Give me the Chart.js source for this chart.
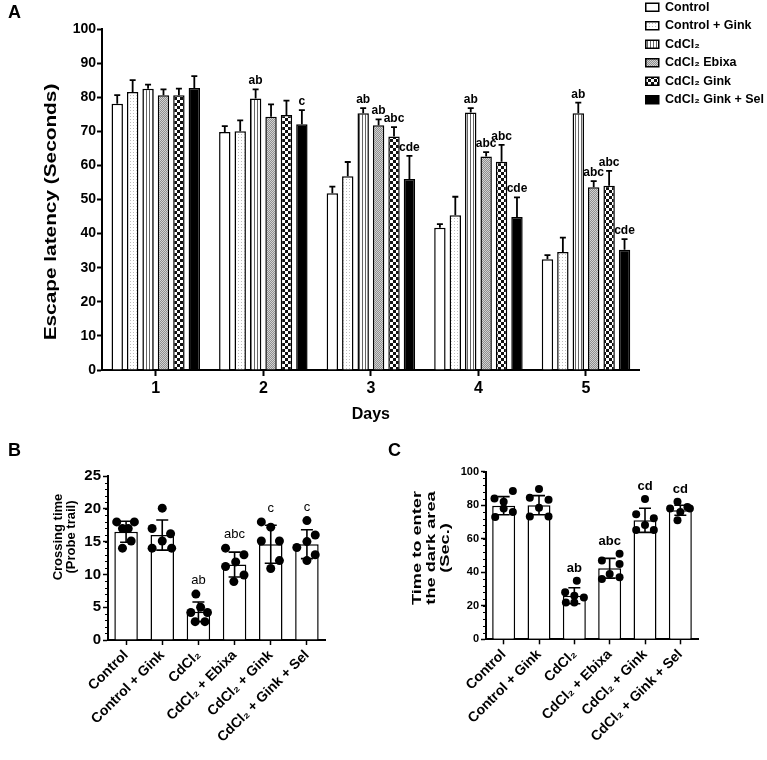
<!DOCTYPE html>
<html lang="en">
<head>
<meta charset="UTF-8">
<title>Escape latency, crossing time and step-through latency</title>
<script src="https://cdn.jsdelivr.net/npm/chart.js"></script>
<style>
    body {
        margin: 0;
        background: #ffffff;
        width: 767px;
        height: 760px;
        position: relative;
        overflow: hidden;
    }
    canvas { position: absolute; }
    #chartA { left: 0; top: -5px; }
    #chartB { left: 0; top: 440px; }
    #chartC { left: 380px; top: 440px; }
</style>
</head>
<body>
<canvas id="chartA" width="767" height="435"></canvas>
<canvas id="chartB" width="380" height="320"></canvas>
<canvas id="chartC" width="387" height="320"></canvas>
<script>
// ---------- panel A: escape latency (mean + SEM), days 1-5 ----------
const days = ['1', '2', '3', '4', '5'];
const groupsA = ['Control', 'Control + Gink', 'CdCl₂', 'CdCl₂ Ebixa', 'CdCl₂ Gink', 'CdCl₂ Gink + Sel'];

const latControl     = [78.1, 69.8, 51.8, 41.7, 32.5];
const latControlGink = [81.5, 70.0, 56.8, 45.4, 34.6];
const latCd          = [82.5, 79.6, 75.3, 75.5, 75.3];
const latCdEbixa     = [80.6, 74.3, 71.8, 62.6, 53.6];
const latCdGink      = [80.6, 74.8, 68.5, 61.1, 54.0];
const latCdGinkSel   = [82.7, 72.1, 56.0, 44.9, 35.3];

const semControl     = [2.5, 1.7, 2.0, 1.1, 1.2];
const semControlGink = [3.5, 3.2, 4.2, 5.4, 4.2];
const semCd          = [1.2, 2.7, 1.5, 1.3, 3.1];
const semCdEbixa     = [1.7, 3.6, 1.7, 1.3, 1.8];
const semCdGink      = [1.9, 4.2, 2.7, 4.9, 4.4];
const semCdGinkSel   = [3.5, 4.1, 6.8, 5.7, 3.1];

const letControl     = ['', '', '', '', ''];
const letControlGink = ['', '', '', '', ''];
const letCd          = ['', 'ab', 'ab', 'ab', 'ab'];
const letCdEbixa     = ['', '', 'ab', 'abc', 'abc'];
const letCdGink      = ['', '', 'abc', 'abc', 'abc'];
const letCdGinkSel   = ['', 'c', 'cde', 'cde', 'cde'];

// ---------- panels B and C: per-animal values (mean +/- SD) ----------
const groupsBC = ['Control', 'Control + Gink', 'CdCl₂', 'CdCl₂ + Ebixa', 'CdCl₂ + Gink', 'CdCl₂ + Gink + Sel'];

const crossMean = [16.5, 16.0, 4.3, 11.5, 14.6, 14.6];
const crossSD   = [1.6, 2.3, 1.5, 1.9, 2.9, 2.2];
const crossPts  = [
    [18, 18, 17, 17, 15.1, 14],
    [20.1, 17, 16.2, 15.1, 14, 14],
    [7, 5, 4.2, 4.2, 2.8, 2.8],
    [14, 13, 11.9, 11.2, 9.9, 8.9],
    [18, 17.2, 15.1, 15.1, 12.1, 10.9],
    [18.2, 16, 15, 14.1, 13, 12.1]
];
const crossJitter = [
    [-0.26, 0.23, 0.06, -0.1, 0.14, -0.1],
    [0, -0.28, 0.23, 0, -0.28, 0.26],
    [-0.07, 0.06, -0.21, 0.25, -0.09, 0.18],
    [-0.25, 0.26, 0.03, -0.25, 0.26, -0.02],
    [-0.26, 0, -0.26, 0.24, 0.24, 0],
    [0, 0.23, 0, -0.28, 0.23, 0]
];
const crossLetters = ['', '', 'ab', 'abc', 'c', 'c'];

const darkMean = [79.7, 80.0, 26.0, 42.4, 71.0, 77.0];
const darkSD   = [5.4, 5.7, 4.8, 5.9, 7.2, 3.0];
const darkPts  = [
    [84, 82, 88.5, 78, 73, 76],
    [89.7, 84.5, 83.3, 78.5, 73.2, 73.2],
    [35, 28, 26, 25, 22, 22],
    [51, 47, 45, 39, 36, 37],
    [83.7, 74.6, 72.2, 68.2, 65.2, 65.2],
    [82, 79, 78, 78, 76, 71]
];
const darkJitter = [
    [-0.26, 0, 0.26, 0, -0.24, 0.26],
    [0, -0.26, 0.27, 0, -0.26, 0.27],
    [0.07, -0.26, 0, 0.27, -0.24, 0],
    [0.28, -0.22, 0.28, 0, -0.22, 0.28],
    [0, -0.25, 0.25, 0, -0.25, 0.25],
    [-0.08, 0.2, -0.29, 0.27, 0, -0.08]
];
const darkLetters = ['', '', 'ab', 'abc', 'cd', 'cd'];

Chart.defaults.font.family = '"Liberation Sans", Arial, sans-serif';
Chart.defaults.color = '#000';
Chart.defaults.animation = false;

// bar fill patterns
function pattern(w, h, draw) {
    const c = document.createElement('canvas');
    c.width = w;
    c.height = h;
    const g = c.getContext('2d');
    draw(g);
    return g.createPattern(c, 'repeat');
}
const dotFill = pattern(3, 3, g => {
    g.fillStyle = '#ffffff'; g.fillRect(0, 0, 3, 3);
    g.fillStyle = '#bdbdbd'; g.fillRect(1, 1, 1, 1);
});
const stripeFill = pattern(3, 1, g => {
    g.fillStyle = '#ffffff'; g.fillRect(0, 0, 3, 1);
    g.fillStyle = '#666666'; g.fillRect(2, 0, 1, 1);
});
const stippleFill = pattern(2, 2, g => {
    g.fillStyle = '#d2d2d2'; g.fillRect(0, 0, 2, 2);
    g.fillStyle = '#8e8e8e'; g.fillRect(0, 0, 1, 1); g.fillRect(1, 1, 1, 1);
});
const checkFill = pattern(6, 6, g => {
    g.fillStyle = '#ffffff'; g.fillRect(0, 0, 6, 6);
    g.fillStyle = '#111111'; g.fillRect(0, 0, 3, 3); g.fillRect(3, 3, 3, 3);
});

// error bars, significance letters, minor ticks and stretched y titles
const extras = {
    id: 'extras',
    afterDatasetsDraw(chart) {
        const ctx = chart.ctx;
        const y = chart.scales.y;
        chart.data.datasets.forEach((ds, di) => {
            if (!ds.errors) return;
            const meta = chart.getDatasetMeta(di);
            ctx.save();
            ctx.strokeStyle = '#000';
            ctx.lineWidth = ds.errWidth;
            meta.data.forEach((bar, i) => {
                const x = bar.x;
                const half = ds.capWidth / 2;
                const top = y.getPixelForValue(ds.data[i] + ds.errors[i]);
                const bottom = y.getPixelForValue(ds.errorBoth ? ds.data[i] - ds.errors[i] : ds.data[i]);
                ctx.beginPath();
                ctx.moveTo(x, bottom);
                ctx.lineTo(x, top);
                ctx.moveTo(x - half, top);
                ctx.lineTo(x + half, top);
                if (ds.errorBoth) {
                    ctx.moveTo(x - half, bottom);
                    ctx.lineTo(x + half, bottom);
                }
                ctx.stroke();
                if (ds.letters[i]) {
                    ctx.fillStyle = '#000';
                    ctx.font = ds.letterFont;
                    ctx.textAlign = 'center';
                    ctx.textBaseline = 'alphabetic';
                    ctx.fillText(ds.letters[i], x, y.getPixelForValue(ds.letterAt[i]) - ds.letterGap);
                }
            });
            ctx.restore();
        });
    },
    afterDraw(chart, args, opts) {
        const ctx = chart.ctx;
        const y = chart.scales.y;
        const area = chart.chartArea;
        ctx.save();
        if (opts.minorStep) {
            ctx.strokeStyle = '#000';
            ctx.lineWidth = 1;
            ctx.beginPath();
            for (let v = y.min; v <= y.max + 1e-9; v += opts.minorStep) {
                const py = Math.round(y.getPixelForValue(v)) + 0.5;
                ctx.moveTo(area.left - opts.minorLength, py);
                ctx.lineTo(area.left, py);
            }
            ctx.stroke();
        }
        if (opts.yTitle) {
            const t = opts.yTitle;
            ctx.fillStyle = '#000';
            ctx.font = t.font;
            ctx.textAlign = 'center';
            ctx.textBaseline = 'middle';
            ctx.translate(t.x, t.y);
            ctx.rotate(-Math.PI / 2);
            ctx.scale(t.stretch, 1);
            t.lines.forEach((line, k) => {
                ctx.fillText(line, 0, (k - (t.lines.length - 1) / 2) * t.lineHeight);
            });
        }
        ctx.restore();
    }
};

// ---------- chart A ----------
const latency = [latControl, latControlGink, latCd, latCdEbixa, latCdGink, latCdGinkSel];
const semA = [semControl, semControlGink, semCd, semCdEbixa, semCdGink, semCdGinkSel];
const lettersA = [letControl, letControlGink, letCd, letCdEbixa, letCdGink, letCdGinkSel];
const fillsA = ['#ffffff', dotFill, stripeFill, stippleFill, checkFill, '#000000'];

new Chart(document.getElementById('chartA'), {
    type: 'bar',
    data: {
        labels: days,
        datasets: groupsA.map((name, k) => ({
            label: name,
            data: latency[k],
            backgroundColor: fillsA[k],
            borderColor: '#000',
            borderWidth: 1.5,
            categoryPercentage: 0.86,
            barPercentage: 0.74,
            errors: semA[k],
            errorBoth: false,
            errWidth: 1.8,
            capWidth: 6,
            letters: lettersA[k],
            letterAt: latency[k].map((v, i) => v + semA[k][i]),
            letterGap: 5,
            letterFont: 'bold 12px "Liberation Sans", Arial, sans-serif'
        }))
    },
    options: {
        responsive: false,
        layout: { padding: { left: 8, right: -7, top: 0, bottom: 0 } },
        scales: {
            x: {
                grid: { display: true, drawOnChartArea: false, offset: false, tickLength: 6, tickWidth: 2, tickColor: '#000' },
                border: { color: '#000', width: 2 },
                ticks: { font: { size: 16, weight: 'bold' }, padding: 3 },
                title: { display: true, text: 'Days', font: { size: 16, weight: 'bold' }, padding: { top: 0, bottom: 6 } },
                afterFit(s) { s.height = 60; }
            },
            y: {
                min: 0,
                max: 100,
                ticks: { stepSize: 10, font: { size: 14, weight: 'bold' }, padding: 1 },
                grid: { display: true, drawOnChartArea: false, tickLength: 5, tickWidth: 2, tickColor: '#000' },
                border: { color: '#000', width: 2 },
                afterFit(s) { s.width = 94; }
            }
        },
        plugins: {
            title: {
                display: true,
                text: 'A',
                align: 'start',
                font: { size: 18, weight: 'bold' },
                padding: { top: 7, bottom: 5.4 }
            },
            legend: {
                position: 'right',
                align: 'start',
                labels: { boxWidth: 13, boxHeight: 8, padding: 6, font: { size: 12.5, weight: 'bold' } }
            },
            tooltip: { enabled: false },
            extras: {
                yTitle: {
                    lines: ['Escape latency (Seconds)'],
                    x: 52, y: 217, stretch: 1.3, lineHeight: 16,
                    font: 'bold 16px "Liberation Sans", Arial, sans-serif'
                }
            }
        }
    },
    plugins: [extras]
});

// ---------- charts B and C ----------
function dotPanel(id, panelLetter, means, sds, pts, jitter, letters, cfg) {
    const points = [];
    pts.forEach((vals, i) => vals.forEach((v, j) => points.push({ x: i + jitter[i][j], y: v })));
    new Chart(document.getElementById(id), {
        type: 'bar',
        data: {
            labels: groupsBC,
            datasets: [
                {
                    type: 'bar',
                    data: means,
                    order: 2,
                    grouped: false,
                    backgroundColor: '#ffffff',
                    borderColor: '#000',
                    borderWidth: 1.5,
                    categoryPercentage: 0.65,
                    barPercentage: 1,
                    errors: sds,
                    errorBoth: true,
                    errWidth: 1.6,
                    capWidth: cfg.cap,
                    letters: letters,
                    letterAt: pts.map(v => Math.max(...v)),
                    letterGap: cfg.letterGap,
                    letterFont: cfg.letterFont
                },
                {
                    type: 'scatter',
                    data: points,
                    order: 1,
                    xAxisID: 'x2',
                    pointRadius: cfg.dot,
                    backgroundColor: '#000',
                    borderWidth: 0
                }
            ]
        },
        options: {
            responsive: false,
            layout: { padding: { left: 8, right: cfg.right, top: 0, bottom: 0 } },
            scales: {
                x: {
                    grid: { display: true, drawOnChartArea: false, offset: false, tickLength: 5, tickWidth: 1.5, tickColor: '#000' },
                    border: { color: '#000', width: 2 },
                    ticks: { font: { size: 14, weight: 'bold' }, minRotation: 45, maxRotation: 45, padding: 2 },
                    afterFit(s) { s.height = cfg.xHeight; }
                },
                x2: { type: 'linear', min: -0.5, max: 5.5, offset: false, display: false },
                y: {
                    min: 0,
                    max: cfg.max,
                    ticks: { stepSize: cfg.step, font: { size: cfg.tickSize, weight: 'bold' }, padding: 2 },
                    grid: { display: true, drawOnChartArea: false, tickLength: 5, tickWidth: 1.5, tickColor: '#000' },
                    border: { color: '#000', width: 2 },
                    afterFit(s) { s.width = cfg.yWidth; }
                }
            },
            plugins: {
                title: {
                    display: true,
                    text: panelLetter,
                    align: 'start',
                    font: { size: 18, weight: 'bold' },
                    padding: { top: 0, bottom: cfg.titleBottom }
                },
                legend: { display: false },
                tooltip: { enabled: false },
                extras: {
                    minorStep: cfg.minor,
                    minorLength: 3,
                    yTitle: cfg.yTitle
                }
            }
        },
        plugins: [extras]
    });
}

dotPanel('chartB', 'B', crossMean, crossSD, crossPts, crossJitter, crossLetters, {
    max: 25, step: 5, minor: 1, tickSize: 15, yWidth: 100, right: 55, xHeight: 120,
    titleBottom: 14.4, dot: 4.5, cap: 12, letterGap: 10,
    letterFont: '13px "Liberation Sans", Arial, sans-serif',
    yTitle: {
        lines: ['Crossing time', '(Probe trail)'],
        x: 65, y: 97, stretch: 1, lineHeight: 13,
        font: 'bold 13px "Liberation Sans", Arial, sans-serif'
    }
});

dotPanel('chartC', 'C', darkMean, darkSD, darkPts, darkJitter, darkLetters, {
    max: 100, step: 20, minor: 4, tickSize: 11, yWidth: 98, right: 69, xHeight: 120.7,
    titleBottom: 10.1, dot: 4, cap: 12, letterGap: 9,
    letterFont: 'bold 13px "Liberation Sans", Arial, sans-serif',
    yTitle: {
        lines: ['Time to enter', 'the dark area', '(Sec.)'],
        x: 51, y: 108, stretch: 1.4, lineHeight: 14,
        font: 'bold 13px "Liberation Sans", Arial, sans-serif'
    }
});
</script>
</body>
</html>
